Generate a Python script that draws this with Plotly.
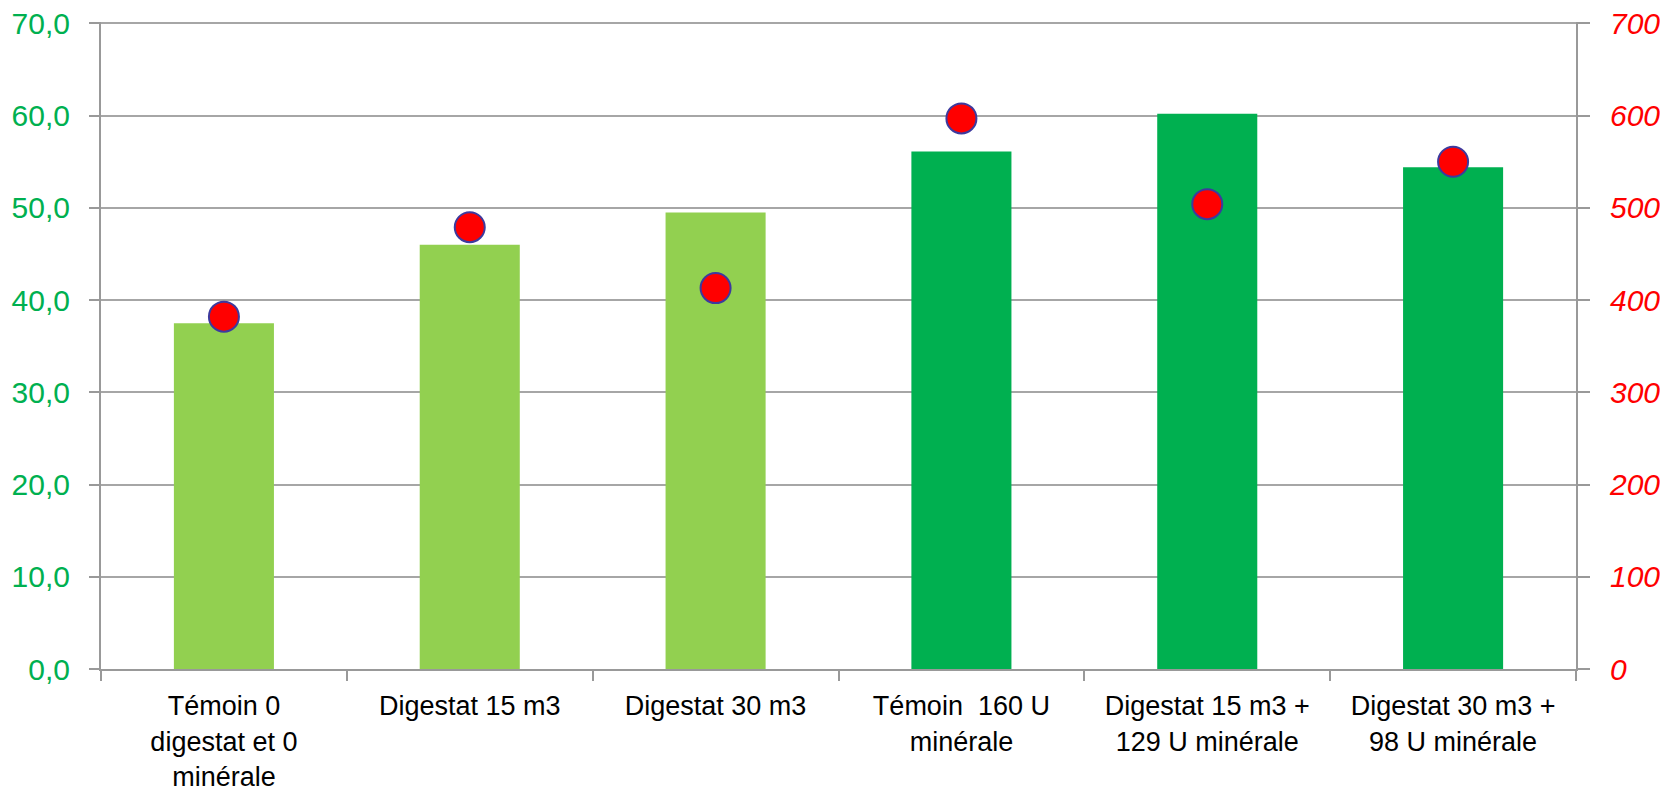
import plotly.graph_objects as go

categories = [
    "Témoin 0<br>digestat et 0<br>minérale",
    "Digestat 15 m3",
    "Digestat 30 m3",
    "Témoin  160 U<br>minérale",
    "Digestat 15 m3 +<br>129 U minérale",
    "Digestat 30 m3 +<br>98 U minérale",
]
bar_values = [37.5, 46.0, 49.5, 56.1, 60.2, 54.4]
bar_colors = ["#92D050", "#92D050", "#92D050", "#00B050", "#00B050", "#00B050"]
point_values = [382, 479, 413, 597, 504, 550]

left_ticks = [0, 10, 20, 30, 40, 50, 60, 70]
right_ticks = [0, 100, 200, 300, 400, 500, 600, 700]
left_max = 70.15            # tiny headroom so the 70 gridline is drawn
right_max = left_max * 10   # keeps both axes aligned

fig = go.Figure()
fig.add_trace(go.Bar(
    x=categories, y=bar_values,
    marker=dict(color=bar_colors, line=dict(width=0)),
    yaxis="y", showlegend=False,
))
fig.add_trace(go.Scatter(
    x=categories, y=point_values, mode="markers",
    marker=dict(size=30, color="#FF0000", line=dict(color="#3D3A9E", width=2)),
    yaxis="y2", showlegend=False,
))

font_family = "Liberation Sans, Arial, sans-serif"
# page body adds an 8px offset; figure size/margins compensate for it
fig.update_layout(
    width=1662, height=783,
    margin=dict(l=93, r=94, t=14, b=122),
    paper_bgcolor="white", plot_bgcolor="white",
    separators=", ",
    bargap=0.593,
    font=dict(family=font_family, color="black"),
    xaxis=dict(
        type="category", automargin=False,
        showline=True, linecolor="#999999", linewidth=2,
        ticks="outside", tickson="boundaries", ticklen=10, tickcolor="#999999", tickwidth=2,
        ticklabelstandoff=12, ticklabeloverflow="allow",
        tickfont=dict(size=27, color="black", family=font_family),
        showgrid=False,
    ),
    yaxis=dict(
        range=[0, left_max], tickvals=left_ticks, tickformat=".1f", automargin=False,
        showline=True, linecolor="#999999", linewidth=2,
        ticks="outside", ticklen=10, tickcolor="#999999", tickwidth=2,
        ticklabelstandoff=13, ticklabeloverflow="allow",
        showgrid=True, gridcolor="#A6A6A6", gridwidth=2,
        zeroline=False,
        tickfont=dict(size=30, color="#00B050", family=font_family),
    ),
    yaxis2=dict(
        range=[0, right_max], tickvals=right_ticks, overlaying="y", side="right", automargin=False,
        showline=True, linecolor="#999999", linewidth=2,
        ticks="outside", ticklen=12, tickcolor="#999999", tickwidth=2,
        ticklabelstandoff=14, ticklabeloverflow="allow",
        showgrid=False, zeroline=False,
        tickfont=dict(size=30, color="#FF0000", family=font_family, style="italic"),
    ),
)

fig.write_html("out.html")
